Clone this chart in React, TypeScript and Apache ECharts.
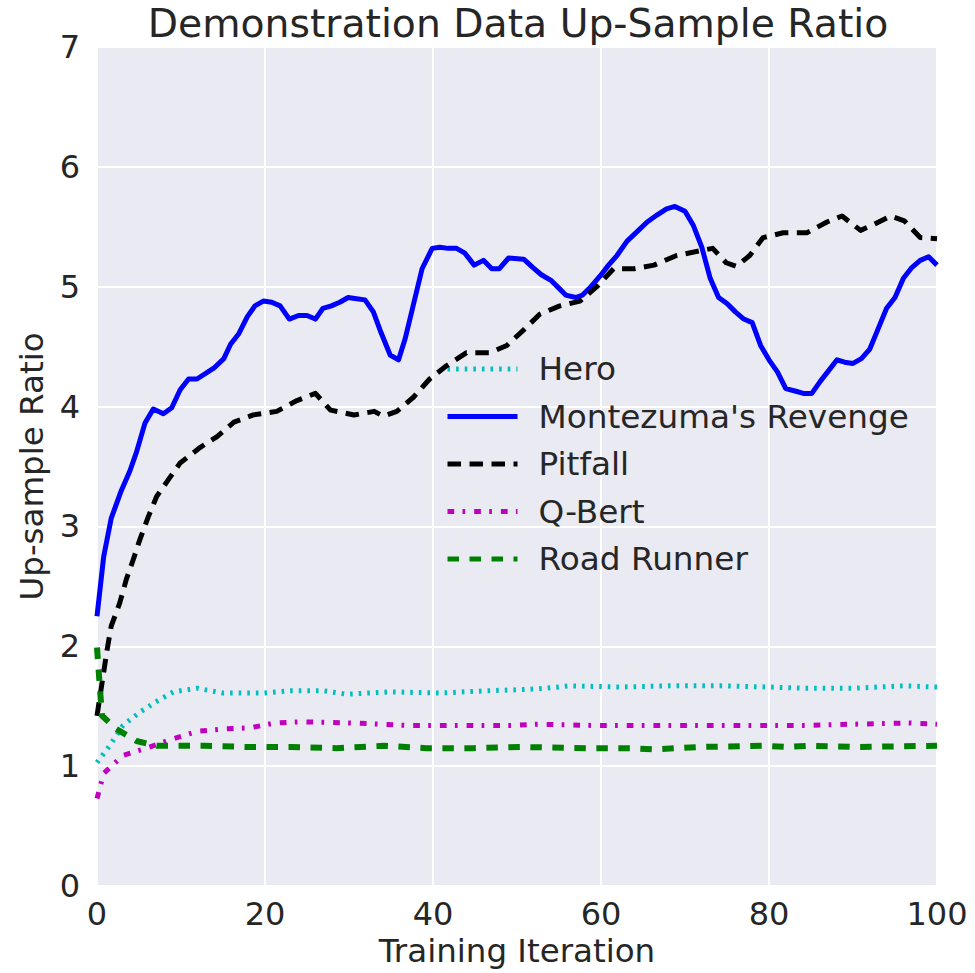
import React, { useEffect, useRef } from "react";
import * as echarts from "echarts";

const TITLE = "Demonstration Data Up-Sample Ratio";
const X_NAME = "Training Iteration";
const Y_NAME = "Up-sample Ratio";
const SERIES_NAMES = ["Hero", "Montezuma's Revenge", "Pitfall", "Q-Bert", "Road Runner"];

const heroX = [0, 1.5, 3.1, 5.1, 7.1, 9.1, 11.9, 15, 19.8, 23, 26.9, 29.7, 34.9, 40.8, 46.8, 51.2, 53.5, 56.3, 62.3, 68.2, 74.2, 80.1, 84.1, 90, 96, 100];
const heroY = [1.03, 1.17, 1.34, 1.45, 1.54, 1.62, 1.65, 1.61, 1.61, 1.63, 1.63, 1.6, 1.62, 1.61, 1.63, 1.64, 1.65, 1.67, 1.66, 1.67, 1.67, 1.66, 1.65, 1.65, 1.67, 1.66];

const montezumaX = [0, 0.8, 1.7, 2.9, 3.9, 4.7, 5.7, 6.7, 7.9, 8.9, 9.9, 10.9, 11.9, 13.9, 15.1, 15.9, 16.9, 17.9, 18.8, 19.8, 20.8, 21.8, 22.9, 24, 25, 26, 26.9, 27.9, 28.9, 29.9, 30.9, 31.9, 32.9, 33.8, 34.9, 35.9, 36.7, 37.7, 38.7, 39.9, 40.8, 41.8, 42.8, 43.8, 44.9, 46, 47, 47.9, 49, 50.8, 51.9, 52.9, 54.1, 55.1, 55.8, 57, 57.8, 58.8, 59.9, 60.9, 61.9, 63.1, 64.3, 65.5, 66.7, 67.8, 68.8, 70, 71, 72, 73, 74, 75, 76, 77, 78, 79, 80, 81, 82, 83.1, 84.1, 85.1, 86.1, 87.1, 88.1, 89, 90, 91, 92, 93, 94, 95, 96, 97, 98, 99, 100];
const montezumaY = [2.25, 2.75, 3.07, 3.3, 3.46, 3.62, 3.86, 3.98, 3.94, 3.99, 4.14, 4.23, 4.23, 4.32, 4.4, 4.52, 4.61, 4.75, 4.84, 4.88, 4.87, 4.84, 4.73, 4.76, 4.76, 4.73, 4.82, 4.84, 4.87, 4.91, 4.9, 4.89, 4.79, 4.62, 4.43, 4.39, 4.57, 4.86, 5.15, 5.32, 5.33, 5.32, 5.32, 5.28, 5.18, 5.22, 5.15, 5.15, 5.24, 5.23, 5.16, 5.1, 5.05, 4.98, 4.93, 4.91, 4.93, 5.0, 5.09, 5.18, 5.26, 5.38, 5.46, 5.54, 5.6, 5.65, 5.67, 5.63, 5.51, 5.33, 5.07, 4.91, 4.86, 4.79, 4.73, 4.7, 4.51, 4.39, 4.29, 4.15, 4.13, 4.11, 4.11, 4.21, 4.3, 4.39, 4.37, 4.36, 4.4, 4.48, 4.65, 4.82, 4.91, 5.07, 5.16, 5.22, 5.25, 5.18];

const pitfallX = [0, 1.2, 1.7, 2.7, 3.5, 4.3, 5.1, 6.1, 7.1, 8.5, 9.9, 12.3, 14.3, 16.3, 18.6, 21.4, 23.8, 26, 27.8, 30.6, 33, 34.1, 35.7, 37.7, 39.6, 41.6, 44, 46.8, 48.8, 50.8, 52.7, 55.1, 57.5, 59.5, 61.5, 63.9, 66.3, 69, 71.8, 73.3, 74.9, 76.1, 77.7, 79.3, 81.7, 84.5, 86.9, 88.7, 90.9, 92.5, 94.5, 96.1, 98, 100];
const pitfallY = [1.42, 1.97, 2.17, 2.36, 2.56, 2.72, 2.89, 3.08, 3.25, 3.39, 3.53, 3.66, 3.75, 3.87, 3.93, 3.96, 4.05, 4.11, 3.97, 3.93, 3.96, 3.92, 3.96, 4.08, 4.23, 4.34, 4.45, 4.45, 4.51, 4.64, 4.77, 4.84, 4.88, 5.0, 5.15, 5.15, 5.18, 5.26, 5.3, 5.32, 5.2, 5.17, 5.26, 5.41, 5.45, 5.45, 5.54, 5.59, 5.47, 5.52, 5.59, 5.55, 5.41, 5.4];

const qbertX = [0, 0.8, 3.1, 5.9, 8.7, 11.9, 15, 18.2, 21.2, 24.4, 30.5, 36.8, 43.2, 49.6, 52.5, 58.9, 65, 71.4, 77.7, 84.1, 90.2, 96.6, 100];
const qbertY = [0.73, 0.94, 1.09, 1.15, 1.22, 1.29, 1.31, 1.32, 1.36, 1.37, 1.36, 1.34, 1.34, 1.34, 1.35, 1.34, 1.34, 1.34, 1.34, 1.34, 1.35, 1.36, 1.35];

const roadX = [0, 0.4, 0.6, 2.3, 4.7, 7.1, 9.9, 12.7, 17.8, 23, 28.5, 34.1, 39.2, 44.8, 50.4, 58.3, 63.5, 66.3, 68.9, 71.8, 79.6, 82.1, 85.1, 90.5, 100];
const roadY = [1.99, 1.6, 1.42, 1.31, 1.21, 1.17, 1.17, 1.17, 1.16, 1.16, 1.15, 1.17, 1.15, 1.15, 1.16, 1.15, 1.15, 1.14, 1.15, 1.16, 1.17, 1.16, 1.17, 1.16, 1.17];

const X_TICKS = [0, 20, 40, 60, 80, 100];
const Y_TICKS = [0, 1, 2, 3, 4, 5, 6, 7];

const zip = (xs: number[], ys: number[]) => xs.map((x, i) => [x, ys[i]]);

const TEXT = "#262626";
const FONT = "DejaVu Sans";

export default function App() {
  const ref = useRef<HTMLDivElement>(null);
  useEffect(() => {
    if (!ref.current) return;
    const chart = echarts.init(ref.current, undefined, { renderer: "svg" });
    const styles = [
      { color: "#00BFBF", width: 5, type: [2.6, 6] as any },
      { color: "#0000FF", width: 5, type: "solid" as any },
      { color: "#000000", width: 5, type: [13.5, 8.5] as any },
      { color: "#BF00BF", width: 5, type: [6.7, 8.3, 2.7, 9] as any },
      { color: "#008000", width: 6, type: [11.5, 10.5] as any },
    ];
    const datas = [
      zip(heroX, heroY),
      zip(montezumaX, montezumaY),
      zip(pitfallX, pitfallY),
      zip(qbertX, qbertY),
      zip(roadX, roadY),
    ];
    chart.setOption({
      animation: false,
      backgroundColor: "#ffffff",
      textStyle: { fontFamily: FONT },
      title: {
        text: TITLE,
        left: 513,
        textAlign: "center",
        top: -1,
        textStyle: { fontFamily: FONT, fontSize: 39.3, fontWeight: "normal", color: TEXT },
      },
      grid: {
        left: 97,
        right: 38,
        top: 47,
        bottom: 87,
        show: true,
        backgroundColor: "#EAEAF2",
        borderWidth: 0,
      },
      legend: {
        orient: "vertical",
        left: 440,
        top: 346,
        itemWidth: 70,
        itemHeight: 20,
        itemGap: 11.5,
        data: SERIES_NAMES,
        itemStyle: { opacity: 0 },
        lineStyle: { width: 5 },
        textStyle: {
          fontFamily: FONT,
          fontSize: 32.7,
          color: TEXT,
          lineHeight: 36,
          padding: [0, 0, 0, 16],
        },
      },
      xAxis: {
        type: "value",
        min: X_TICKS[0],
        max: X_TICKS[X_TICKS.length - 1],
        interval: 20,
        name: X_NAME,
        nameLocation: "middle",
        nameGap: 46,
        nameTextStyle: { fontFamily: FONT, fontSize: 32.5, color: TEXT },
        axisLine: { show: false },
        axisTick: { show: false },
        axisLabel: { fontFamily: FONT, fontSize: 32, color: TEXT, margin: 12 },
        splitLine: { show: true, lineStyle: { color: "#ffffff", width: 2 } },
      },
      yAxis: {
        type: "value",
        min: Y_TICKS[0],
        max: Y_TICKS[Y_TICKS.length - 1],
        interval: 1,
        name: Y_NAME,
        nameLocation: "middle",
        nameGap: 44,
        nameTextStyle: { fontFamily: FONT, fontSize: 32.5, color: TEXT },
        axisLine: { show: false },
        axisTick: { show: false },
        axisLabel: { fontFamily: FONT, fontSize: 32, color: TEXT, margin: 17 },
        splitLine: { show: true, lineStyle: { color: "#ffffff", width: 2 } },
      },
      series: SERIES_NAMES.map((name, i) => ({
        name,
        type: "line",
        data: datas[i],
        showSymbol: false,
        symbol: "none",
        smooth: false,
        color: styles[i].color,
        lineStyle: { color: styles[i].color, width: styles[i].width, type: styles[i].type, cap: "butt", join: "round" },
        z: 2 + i,
      })),
    });
    return () => chart.dispose();
  }, []);
  return (
    <div
      ref={ref}
      style={{ position: "fixed", left: 0, top: 0, width: 975, height: 973 }}
    />
  );
}
